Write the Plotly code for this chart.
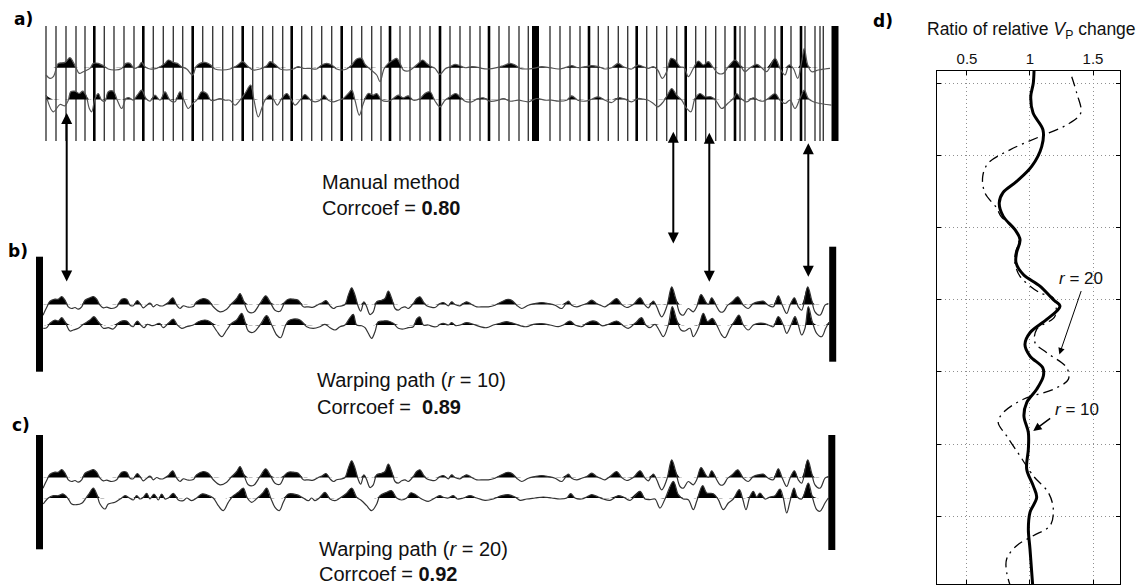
import plotly.graph_objects as go

W, H = 1138, 585

# ---------------- panel a: original traces (time in samples, amplitude) ----------------
a_top = [(1, -7.3), (5, -10.7), (8.3, -9), (11.7, 1), (13.3, 4.3), (20, 5.3), (25, 10), (28.3, 5.3),
         (31, 0), (34.3, -5.7), (38.3, -4), (45, -0.7), (48.3, 4.3), (53.3, 4.3), (58.3, 2), (63.3, -1.3),
         (70, -2.3), (76.7, -0.7), (81, 4.3), (85, 4.3), (89, -0.7), (93.3, 1), (96.7, 5.3), (100, 1),
         (105, -1.3), (111.7, -0.7), (120, 4.3), (123.3, 7.7), (128.3, 5.3), (132.3, 4.3), (136.7, 1),
         (141.7, -1.3), (147.7, -7.3), (151, 1), (155, 4.3), (160, 5.3), (165, 3.3), (170, -1.3),
         (176.7, -2.3), (185, -1.3), (191.7, 2), (197.7, 6), (203.3, 1), (208.3, -2.3), (215, -1.3),
         (221.7, 2), (225, 6), (230, 3.3), (235, -1.3), (241.7, -2.3), (248.3, -1.3), (253.3, 1),
         (258.3, -0.7), (265, -0.7), (271.7, -1.3), (276.7, 2.7), (281.7, 4.3), (286.7, 2.7), (291.7, -1.3),
         (296.7, -2.3), (301.7, -1.3), (306.7, 2.7), (311.7, 8.7), (316.7, 9.3), (320, 3.3), (325, -1.3),
         (331.7, -7.3), (335, -14), (339, -1.3), (343.3, 4.3), (348.3, 7.7), (351.7, 9.3), (355, 4.3),
         (358.3, -2.3), (363.3, -3.3), (368.3, 0), (373.3, 4.3), (377.7, 7.7), (381.7, 4.3), (386.7, 1),
         (390, -0.7), (395, -6.7), (400, -1.3), (405, 1), (410, 3.3), (415, 2), (420, 0), (426.7, 1),
         (431.7, 0.7), (436.7, -0.7), (443.3, -1.3), (451.7, 0), (458.3, 2), (465, 4.3), (470, 2.7),
         (475, -0.7), (481.7, -1.3), (488.3, -0.7), (496.7, 1), (505, 0), (513.3, -1.3), (520, 0),
         (526.7, 2), (533.3, 0), (540, 1), (546.7, 2), (553.3, 1), (560, -1.3), (566.7, 0), (573.3, 4.3),
         (578.3, 1), (586.7, -1.3), (593.3, 2.7), (598.3, 1), (603.3, -0.7), (608.3, 1), (612.7, -2.3),
         (617.3, -10.7), (621.7, -4), (626, 9.3), (630, 7.7), (635, 1), (639.3, 0), (643.3, -9),
         (648.3, -0.7), (653.3, 6.7), (658.3, 2.7), (663.3, 6), (668.3, 0), (673.3, -5.7), (678.3, -5.7),
         (683.3, 1), (690, 7.7), (695, 2.7), (700, -4), (705, 0), (711.7, 3.3), (716.7, 0), (721.7, -4),
         (730, 9.3), (735, -0.7), (740, -7.3), (744, 2.7), (748.3, -0.7), (752.7, -10.7), (756.7, 6),
         (759.3, 19.3), (762.7, 2.7), (766.7, -4), (773.3, -2.3), (780, -1.3), (785, -0.7)]

a_bottom = [(1, 4.3), (8.3, -12.3), (15, -5), (20, -6.3), (23.3, -0.7), (25.7, 7.7), (30, 8.3), (34.3, 6),
            (37.7, 8.3), (41, 4.3), (44.3, -9), (46.7, -12.3), (50, 1), (53.3, 6), (56.7, -0.7), (60, -1.7),
            (63.3, 7.7), (68.3, 8.3), (72.3, -0.7), (76.7, -9), (81, 1), (84.3, 1.7), (88.3, -0.7),
            (92.3, 4.3), (96.7, 9.3), (101, 1), (105, -1.7), (110, 4.3), (115, -0.7), (120, 7.7), (125, -0.7),
            (130, -2.3), (135, 7.7), (139, -0.7), (143.3, -9), (147.7, -4), (151.7, -0.7), (156.7, 7.7),
            (161.7, 6), (165.7, -0.7), (170, -0.7), (175, 1), (180, -0.7), (185, -0.7), (190, -5.7),
            (195, -0.7), (200, 6), (205.7, 14.3), (209, -0.7), (213.3, -17.3), (216.7, -9), (220, -0.7),
            (225, 4.3), (229, -0.7), (232.3, -5.7), (236.7, 1), (241.7, 6), (246.7, -0.7), (250, -5.7),
            (255, -0.7), (260, 5), (265.7, -0.7), (270, -2.3), (275, -0.7), (279, 4.3), (283.3, -0.7),
            (288.3, -2.3), (293.3, -0.7), (298.3, 1), (303.3, 6), (306.7, 9.3), (310, -0.7), (314.3, -15.7),
            (318.3, -4), (323.3, 6), (328.3, 4.3), (331.7, 6), (336.7, -0.7), (343.3, -1.7), (348.3, 1),
            (353.3, 4.3), (358.3, 1.7), (363.3, 3.7), (368.3, -0.7), (375, 1), (380, 6), (385, 7.7),
            (390, -1.5), (395, -7.3), (400, -0.7), (405, 2.7), (410.7, 6), (415, 2.7), (420, -1.7),
            (426.7, -2.3), (433.3, 1), (438.3, 1.7), (445, -1.7), (453.3, -0.7), (458.3, 1), (465, -1.7),
            (473.3, -0.7), (483.3, -2.3), (491.7, 1), (500, -0.7), (506.7, -0.7), (513.3, -1.7),
            (521.7, -0.7), (526.7, 3.7), (532.7, -0.7), (540, -1.7), (546.7, 0.3), (553.3, 2.7), (560, -0.7),
            (566.7, -3), (573.3, 1.7), (578.3, 1), (586.7, -2.3), (593.3, 1), (598.3, 0.3), (603.3, -0.7),
            (608.3, -4), (612.7, -7.3), (618.3, -2.3), (623.3, 6), (626.7, 11), (631.7, 4.3), (636.7, -0.7),
            (641.7, -9), (646, -12.3), (650, 1), (655, 6), (660, 2.7), (666, 2.7), (671.7, -2.3),
            (676.7, -9), (682.7, -4), (688.3, 1), (691.7, 6), (696, 1), (701.7, -2.3), (708.3, 1.7),
            (713.3, -0.7), (718.3, -1.7), (723.3, 1), (730, 6), (735, -0.7), (740, -4), (745, -0.7),
            (750, -9), (755, 1), (759.3, 9.3), (763.3, 1), (768.3, -2.3), (775, -4), (781.7, -5),
            (786.7, -5.7)]

# sample positions of the manual picks
picks_thin = [1, 11, 21, 31, 40, 59.3, 69, 79, 89, 108.3, 118.3, 128.3, 137.7, 157.7, 167.7, 177.7, 187.7,
              207.7, 217.7, 227.7, 237.7, 256.7, 266.7, 276.7, 286.7, 306.7, 316.7, 326.7, 336, 355, 365,
              375, 385, 405, 415, 425, 435, 454, 464, 474, 483.3, 505, 515, 525, 535, 553.3, 563.3, 573.3,
              582.7, 601.7, 611.7, 621.7, 631.7, 650.7, 660.7, 670.7, 680, 695, 700, 710, 720, 730, 746,
              760, 770, 775, 778.3]
picks_thick = [49.3, 98.3, 147.7, 197.7, 246.7, 296.7, 345, 395, 444, 544, 591.7, 640.7, 690, 736.7, 756]
picks_merged = [490.5, 790]

# ---------------- panels b and c: reference and warped traces ----------------
ref_trace = [(-2, -10.7), (2, -2.3), (5, 3.3), (10, 5.3), (13.3, 5.3), (16.7, 8), (20, 4.3), (23.3, -2.3),
             (26.7, -4), (30, -3), (33.3, -4.7), (36.7, -2.3), (40, 4.3), (45, 6.7), (48.3, 8), (51.7, 5.3),
             (55, -0.7), (58.3, -3.3), (61.7, -2.7), (66.7, -4), (71.7, -2.3), (76.7, 5.3), (81.7, 5.3),
             (85, -0.7), (88.3, -1.3), (92.3, 4), (95, 1), (98.3, -3.3), (101.7, -0.7), (105, 1.3),
             (108.3, -2.3), (111.7, 0), (115, -1.3), (118.3, -1.3), (123.3, 2), (127.7, 6.7), (131.7, -0.7),
             (135, -4), (138.3, -1.3), (143.3, -2.7), (148.3, -2), (151.7, 2.7), (158.3, 6), (163.3, 4.3),
             (168.3, -2.3), (175, -7.3), (181.7, -4.7), (186.7, 1), (191.7, 6), (195, 11), (198.3, 4.3),
             (203.3, -7.3), (208.3, -8), (215, 1), (220.7, 8.7), (225, 2.7), (230, -5.7), (235, -6.7),
             (240, 2.7), (243.3, 5.3), (248.3, 5.3), (253.3, 4.3), (258.3, -2.3), (263.3, -2.3),
             (268.3, -2.7), (273.3, 0), (277.7, 2), (281, 4), (285, -1.3), (288.3, -4), (291.7, -2.3),
             (296.7, -1.3), (300, 0), (303.3, 9.3), (306.7, 16.7), (310, 9.3), (313.3, -2.3), (315.7, -6.7),
             (319, 2.7), (321.7, -2.3), (325, -10), (328.3, -7.3), (331.7, 2.7), (336.7, 4.3), (340, 6),
             (343.3, 13.3), (346.7, 6), (350, -4), (353.3, -5.7), (356.7, -3.3), (360, -2.3), (363.3, -4),
             (368.3, 1), (371.7, 6), (375, 7.7), (378.3, 2.7), (381.7, -1.3), (386, -2.7), (390, -3),
             (395, 1), (398.3, 2), (403.3, -1.3), (406.7, 2.7), (410, 0), (415, -1.3), (421.7, 2.7),
             (426.7, 0), (431.7, -2.3), (438.3, -2.3), (443.3, -2.3), (450, -0.7), (456.7, 2.7), (461.7, 5),
             (466.7, 4.3), (471.7, -0.7), (476.7, -4), (483.3, -0.7), (490, 1), (496.7, 2), (503.3, 1),
             (510, -0.7), (516.7, -4), (523.3, 3.3), (526.7, -0.7), (531.7, -2.3), (536.7, -0.7),
             (541.7, 1), (546.7, 4.3), (551.7, 1), (556.7, -1.3), (560, -2.3), (565, 1), (571.7, 6),
             (576.7, 0), (581.7, -3), (588.3, 0), (595, 6.7), (600, -0.7), (603.3, -3.3), (608.3, 3.3),
             (611.7, -2.3), (616.7, -12.3), (621.7, -2.3), (626.7, 17.7), (630.7, 6), (635, -9),
             (638.3, -10.7), (643.3, -4), (648.3, -7.3), (651.7, -2.3), (656, 10), (660.7, 2.7), (663.3, 0),
             (666.7, 6.7), (671.7, -2.3), (675, -7.3), (678.3, -7.3), (682.7, -0.7), (687.3, 2.7),
             (692.7, 7.7), (698.3, -0.7), (703.3, -4), (708.3, 1), (713.3, 2.7), (718.3, 3.3), (723.3, -0.7),
             (728.3, -2.3), (733.3, 8.7), (737.3, -0.7), (741.7, -9), (745, -0.7), (749.3, 6.7),
             (753.3, -2.3), (756.7, -5.7), (762.7, 17.7), (766.7, 4.3), (770, -7.3), (775, -10.7),
             (780, -0.7), (783.3, 1)]

warp_r10 = [(-1.7, -3.3), (1.7, -2.7), (5, 1.7), (10, 5), (13.3, 4), (16.7, 7.3), (20, 3.3), (25, -6),
            (28.3, -5), (33.3, -3.3), (38.3, 0.7), (45, 5), (49, 8.3), (53.3, 3.3), (58.3, -3.3),
            (63.3, -2.7), (68.3, -4), (75, 3.3), (81.7, 4), (85.7, -0.7), (88.3, -1.7), (92.3, 4), (95.7, 0),
            (99, -2.7), (102.3, 0.7), (106.7, -0.7), (110, 0), (114.3, 1.7), (118.3, -2.7), (123.3, 1.7),
            (128.3, 6), (132.3, 0), (136.7, -3.3), (141.7, -1.7), (148.3, 0), (153.3, 3.3), (160, 5),
            (165, 3.3), (171.7, -6), (176.7, -11.7), (181.7, -5), (186.7, 1.7), (191.7, 5), (196.7, 11.7),
            (200, 3.3), (203.3, -6), (208.3, -7.3), (215, 0), (221.7, 9.3), (226.7, 0), (231.7, -10),
            (235.7, -12.7), (240, -1.7), (243.3, 4), (248.3, 6), (255, 5), (261.7, -1.7), (268.3, -3.3),
            (275, -1.7), (280, 0.7), (285, -2.7), (290, -5), (295, -1.7), (300, 0), (305, 7.3),
            (308.3, 10.7), (311.7, 0), (316.7, -0.7), (320, -2.7), (323.3, -8.3), (326.7, -13.3),
            (330, -6.7), (333.3, 3.3), (338.3, 4), (343.3, 4), (348.3, 1.7), (353.3, -3.3), (358.3, -4),
            (363.3, -2.7), (368.3, -1.7), (371.7, 6), (375, 8), (378.3, 0), (383.3, 0), (388.3, -1.7),
            (392, -1.5), (395, 0.7), (398.3, 1.7), (403.3, 0), (406.7, 2.3), (410.7, -0.7), (415, 0),
            (421.7, 2.3), (428.3, 0.7), (435, -1.7), (441.7, -2.7), (448.3, 0), (455, 1.7), (461.7, 3.3),
            (468.3, 1.7), (475, -0.7), (481.7, -1.7), (488.3, 0.7), (496.7, 1.3), (505, 0), (513.3, -1.7),
            (518.3, 0), (525, 4), (530, 0), (536.7, -1.7), (541.7, 1.7), (546.7, 4), (551.7, 3.3),
            (556.7, -0.7), (563.3, 0.7), (571.7, 4), (578.3, -0.7), (583.3, -3.3), (590, 1.7), (596.7, 7.3),
            (600.7, 0), (605, -2.7), (610, 0.7), (614, -5), (618.3, -11.7), (623.3, 0), (627.3, 18.3),
            (631.7, 5), (636, -5), (640, -6), (645, -3.3), (648.3, -11.7), (653.3, -3.3), (658.3, 11.7),
            (662.7, 3.3), (667.3, 6.7), (671.7, 0), (676.7, -10), (680, -12.7), (685, -3.3), (689.3, 3.3),
            (694, 10), (698.3, 0), (703.3, -5), (708.3, 0), (713.3, 1.7), (718.3, 1.7), (723.3, 0),
            (728.3, -1.7), (733.3, 8.3), (738.3, 0), (741.7, -8.3), (746, 0), (750, 8.3), (753.3, 0),
            (756.7, -10), (760, -3.3), (763.3, 18.3), (767.3, 3.3), (771.7, -8.3), (776.7, -11.7),
            (780.7, -3.3), (784, 2.7)]

warp_r20 = [(-1.7, -6), (3.3, 0), (8.3, 2.3), (13.3, 2.3), (18.3, 4), (23.3, -1), (26.7, -6), (31.7, -6.7),
            (36.7, -5.3), (41, 0), (44.3, 4.7), (48.3, 10), (51.7, 4), (55, -6), (60, -11), (63.3, -6),
            (70, -4.3), (76.7, 0), (80, 2.3), (84.3, 0), (88.3, -2), (91.7, 2.3), (95, -1), (98.3, 0.7),
            (101.7, 4.7), (105, -1), (109, 4), (113.3, -2), (116.7, 4), (120, -1), (123.3, 0), (128.3, 4.7),
            (133.3, -2), (138.3, -2.7), (141.7, 0), (146.7, -2.7), (151.7, 0), (156.7, 4), (161.7, 3.3),
            (168.3, 0), (173.3, -7.7), (178.3, -12.7), (183.3, -4.3), (188.3, 2.3), (193.3, 5.7),
            (198.3, 10), (202.3, 0), (206.7, -4.3), (212.3, 0), (218.3, 5.7), (221.7, 10), (225.7, 0),
            (230, -9.3), (234.3, -12.7), (238.3, -4.3), (243.3, 4), (251.7, 3.3), (258.3, 0), (263.3, -2.7),
            (266.7, 0), (270, -2.7), (274.3, 0), (280, 5.7), (285, -1), (290, -2.7), (295, 0), (301.7, 4.7),
            (306.7, 10), (311.7, 0.7), (316.7, -2.7), (321.7, -7.7), (326.7, -12.7), (331.7, -6),
            (335, 2.3), (341.7, 5.7), (346.7, 7.3), (351.7, 0), (356.7, -2), (361.7, 0), (366, 5.2),
            (371, 3), (375, 0), (378.3, -1.7), (383.3, -3.3), (390, 0), (395, 2.3), (398.3, 0.7), (403.3, 0),
            (408.3, 2.3), (412.3, -1), (418.3, 0), (425, 2.3), (431.7, 0), (440, -2.3), (448.3, -1),
            (456.7, 2.3), (463.3, 3.3), (470, 1), (475, -2.3), (481.7, -1), (490, 0), (498.3, 1),
            (506.7, 0), (515, -1), (521.7, 0), (525.7, 4.3), (530, 0), (536.7, -1), (541.7, 1),
            (546.7, 3.3), (553.3, 1), (558.3, -1), (565, -2.3), (573.3, 2.3), (578.3, 1), (585, -2.3),
            (595, 6.7), (600, -1), (605, -1.7), (610, -1), (615, -10), (620, -1), (628.3, 16.7),
            (633.3, 3.3), (638.3, -1), (643.3, -1.7), (648.3, -11.7), (651.7, -3.3), (657.7, 12.3),
            (661.7, 5), (668.3, 4.3), (673.3, -1.7), (678.3, -11.7), (683.3, -5), (688.3, -1), (694.3, 8.3),
            (697.7, -1), (701, -11.7), (705, 1.7), (708.3, 6.7), (711.7, 1), (715, 5), (720, -1), (725, 1),
            (730, 2.3), (735, 9), (738.3, 0), (741.7, -15), (745, -3.3), (749, 10), (752.3, 1),
            (756.7, -1), (763.3, 15), (766.7, 3.3), (771.7, -11.7), (775, -13.3), (780, -5), (783.3, 0)]

# end markers of the warping window (sample, top, bottom)
b_ends = [(-5.5, 47.8, -67.2), (787.7, 57.8, -57.2)]
c_ends = [(-5.5, 42.5, -71.8), (786.8, 42.5, -72.5)]

# ---------------- panel d: ratio of relative Vp change vs depth ----------------
r10_depth = [-0.17, 0.0, 0.185, 0.41, 0.646, 0.877, 1.153, 1.361, 1.517, 1.66, 1.845, 2.029, 2.168, 2.347,
             2.485, 2.651, 2.813, 2.997, 3.09, 3.274, 3.458, 3.62, 3.781, 3.942, 4.058, 4.242, 4.426, 4.611,
             4.841, 5.072, 5.349, 5.58, 5.74, 5.947, 6.178, 6.455, 6.95]
r10_ratio = [1.032, 1.026, 1.006, 1.024, 1.103, 1.093, 1.013, 0.894, 0.786, 0.756, 0.788, 0.881, 0.921,
             0.894, 0.889, 0.947, 1.079, 1.183, 1.238, 1.133, 1.0, 0.96, 1.0, 1.101, 1.106, 1.053, 0.974,
             0.952, 0.987, 0.987, 0.974, 1.026, 1.053, 1.0, 0.987, 1.0, 1.021]
r20_depth = [-0.09, 0.138, 0.415, 0.577, 0.739, 0.923, 1.107, 1.292, 1.521, 1.729, 1.845, 2.029, 2.168,
             2.347, 2.485, 2.675, 2.905, 2.974, 3.228, 3.412, 3.596, 3.734, 3.942, 4.104, 4.242, 4.38,
             4.564, 4.703, 4.888, 5.165, 5.441, 5.671, 5.902, 6.133, 6.271, 6.409, 6.593, 6.777, 6.95]
r20_ratio = [1.331, 1.371, 1.402, 1.291, 1.079, 0.841, 0.669, 0.625, 0.643, 0.736, 0.77, 0.881, 0.913,
             0.885, 0.881, 0.921, 1.079, 1.185, 1.198, 1.053, 1.04, 1.133, 1.291, 1.304, 1.185, 0.947,
             0.788, 0.748, 0.815, 0.921, 1.026, 1.145, 1.185, 1.159, 1.026, 0.894, 0.815, 0.815, 0.841]
ratio_ticks = [0.5, 1, 1.5]
depth_ticks = [0, 1, 2, 3, 4, 5, 6]

# ---------------- figure ----------------
TXT = "Liberation Sans"
fig = go.Figure()


def px_y(py):
    return 1 - py / H


def wiggle(pairs, offset, xa, ya, color):
    t = [p[0] for p in pairs]
    amp = [p[1] for p in pairs]
    common = dict(xaxis=xa, yaxis=ya, hoverinfo="skip", showlegend=False, mode="lines")
    fig.add_trace(go.Scatter(x=t, y=[offset] * len(t), line=dict(width=0, color="rgba(0,0,0,0)"), **common))
    fig.add_trace(go.Scatter(x=t, y=[offset + max(v, 0) for v in amp],
                             line=dict(width=0, shape="spline", color="black"),
                             fill="tonexty", fillcolor="black", **common))
    fig.add_trace(go.Scatter(x=t, y=[offset + v for v in amp],
                             line=dict(width=1.2, shape="spline", color=color), **common))


def vlines(ts, top, bot, width, color, xa, ya):
    xs, ys = [], []
    for t in ts:
        xs += [t, t, None]
        ys += [top, bot, None]
    fig.add_trace(go.Scatter(x=xs, y=ys, mode="lines", line=dict(width=width, color=color),
                             xaxis=xa, yaxis=ya, hoverinfo="skip", showlegend=False))


# panel a
vlines(picks_thin, 41.7, -73.3, 1.4, "#3a3a3a", "x", "y")
vlines(picks_thick, 41.7, -73.3, 2.6, "black", "x", "y")
vlines(picks_merged, 41.7, -73.3, 7, "black", "x", "y")
wiggle(a_top, 0, "x", "y", "#555")
wiggle(a_bottom, -31.8, "x", "y", "#555")

# panel b
wiggle(ref_trace, 0, "x2", "y2", "#333")
wiggle(warp_r10, -20.5, "x2", "y2", "#333")
for t, y0, y1 in b_ends:
    vlines([t], y0, y1, 7, "black", "x2", "y2")

# panel c
wiggle(ref_trace, 0, "x3", "y3", "#333")
wiggle(warp_r20, -20.5, "x3", "y3", "#333")
for t, y0, y1 in c_ends:
    vlines([t], y0, y1, 7, "black", "x3", "y3")

# panel d
fig.add_trace(go.Scatter(x=r20_ratio, y=r20_depth, mode="lines", xaxis="x4", yaxis="y4",
                         line=dict(width=1.3, color="black", dash="10px,5px,2px,5px", shape="spline"),
                         showlegend=False, hoverinfo="skip"))
fig.add_trace(go.Scatter(x=r10_ratio, y=r10_depth, mode="lines", xaxis="x4", yaxis="y4",
                         line=dict(width=3, color="black", shape="spline"),
                         showlegend=False, hoverinfo="skip"))

hidden = dict(visible=False, fixedrange=True)
xr = [-45, 815]
grid = dict(showgrid=True, gridcolor="#8f8f8f", griddash="1px,3px", gridwidth=1, zeroline=False)
fig.update_layout(
    width=W, height=H, autosize=False,
    margin=dict(l=0, r=0, t=0, b=0),
    paper_bgcolor="white", plot_bgcolor="white",
    xaxis=dict(domain=[0, 860 / W], range=xr, anchor="y", **hidden),
    xaxis2=dict(domain=[0, 860 / W], range=xr, anchor="y2", **hidden),
    xaxis3=dict(domain=[0, 860 / W], range=xr, anchor="y3", **hidden),
    yaxis=dict(domain=[px_y(147), px_y(20)], range=[-79.3, 47.7], anchor="x", **hidden),
    yaxis2=dict(domain=[px_y(380), px_y(240)], range=[-75.5, 64.5], anchor="x2", **hidden),
    yaxis3=dict(domain=[px_y(560), px_y(425)], range=[-82.5, 52.5], anchor="x3", **hidden),
    xaxis4=dict(domain=[936.7 / W, 1120 / W], range=[0.26, 1.714], anchor="y4", side="top",
                tickvals=ratio_ticks, ticktext=["0.5", "1", "1.5"], ticks="inside", ticklen=4,
                tickcolor="black", showline=True, linecolor="black", linewidth=1, mirror="allticks",
                tickfont=dict(family=TXT, size=15, color="#111"), fixedrange=True, **grid),
    yaxis4=dict(domain=[1 / H, px_y(70.7)], range=[6.94, -0.174], anchor="x4",
                tickvals=depth_ticks, showticklabels=False, ticks="inside", ticklen=4,
                tickcolor="black", showline=True, linecolor="black", linewidth=1, mirror="allticks",
                fixedrange=True, **grid),
)

ann = []
# panel letters
for lbl, x, y in [("a)", 23, 19), ("b)", 18, 251), ("c)", 21, 425), ("d)", 883, 21)]:
    ann.append(dict(text=f"<b>{lbl}</b>", x=x / W, y=px_y(y), xref="paper", yref="paper",
                    showarrow=False, xanchor="center", yanchor="middle",
                    font=dict(family="DejaVu Sans", size=17, color="black")))

# method captions
captions = [
    ("Manual method", 320, 182), ("Corrcoef = <b>0.80</b>", 320, 208),
    ("Warping path (<i>r</i> = 10)", 315, 380), ("Corrcoef =  <b>0.89</b>", 315, 407),
    ("Warping path (<i>r</i> = 20)", 317, 549), ("Corrcoef = <b>0.92</b>", 317, 574),
]
for txt, x, y in captions:
    ann.append(dict(text=txt, x=x / W, y=px_y(y), xref="paper", yref="paper", showarrow=False,
                    xanchor="left", yanchor="middle", font=dict(family=TXT, size=20, color="#111")))

# correspondence arrows between manual picks and warped traces
for t, y_top, y_bot in [(21.7, 113, 283), (628.3, 131.7, 245), (664.3, 132.7, 283.3), (763.3, 143.3, 278.3)]:
    ann.append(dict(text="", x=t, y=px_y(y_top), xref="x", yref="paper",
                    ax=0, ay=y_bot - y_top, axref="pixel", ayref="pixel",
                    showarrow=True, arrowside="end+start", arrowhead=2, startarrowhead=2,
                    arrowsize=1.1, startarrowsize=1.1, arrowwidth=2, arrowcolor="black"))

# panel d title and curve labels
ann.append(dict(text="Ratio of relative <i>V</i><sub>P</sub> change", x=1031 / W, y=px_y(30),
                xref="paper", yref="paper", showarrow=False, xanchor="center", yanchor="middle",
                font=dict(family=TXT, size=17.5, color="#111")))
ann.append(dict(text="<i>r</i> = 20", x=1.405, y=2.71, xref="x4", yref="y4", showarrow=False,
                font=dict(family=TXT, size=17, color="#111")))
ann.append(dict(text="<i>r</i> = 10", x=1.37, y=4.52, xref="x4", yref="y4", showarrow=False,
                font=dict(family=TXT, size=17, color="#111")))
ann.append(dict(text="", x=1.233, y=3.758, ax=1.41, ay=2.859, xref="x4", yref="y4", axref="x4", ayref="y4",
                showarrow=True, arrowhead=2, arrowsize=1.3, arrowwidth=1, arrowcolor="black"))
ann.append(dict(text="", x=1.026, y=4.819, ax=1.172, ay=4.629, xref="x4", yref="y4", axref="x4", ayref="y4",
                showarrow=True, arrowhead=2, arrowsize=1.1, arrowwidth=1.5, arrowcolor="black"))

fig.update_layout(annotations=ann)
fig.write_html("out.html")
